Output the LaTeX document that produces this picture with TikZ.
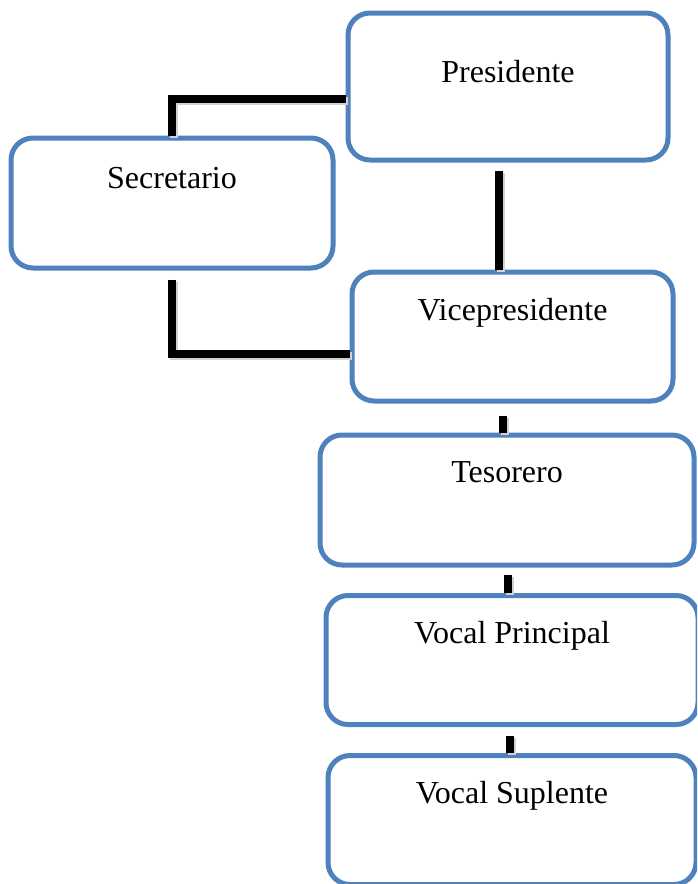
\documentclass[tikz,border=0pt]{standalone}
\usepackage{fontspec}
\setmainfont{Liberation Serif}
\usepackage{tikz}
\definecolor{cargoazul}{HTML}{4F81BD}
\tikzset{
    cargo/.style={draw=cargoazul, line width=5pt, rounded corners=22pt, fill=white, inner sep=0pt},
    enlace/.style={line width=7.5pt, preaction={draw=black!18, line width=8pt, transform canvas={xshift=2pt,yshift=-2pt}}}
}

\begin{document}
\begin{tikzpicture}[x=1pt, y=-1pt, font=\fontsize{32}{38}\selectfont]
        \useasboundingbox (0,0) rectangle (697,884);
        \clip (0,0) rectangle (697,884);

        % Cargos
        \node[cargo, minimum width=320pt, minimum height=147pt, label={[anchor=base, label distance=-72pt]north:Presidente}] (pres) at (508,86.5) {};
        \node[cargo, minimum width=322pt, minimum height=130pt, label={[anchor=base, label distance=-53pt]north:Secretario}] (sec) at (172,203) {};
        \node[cargo, minimum width=321pt, minimum height=129pt, label={[anchor=base, label distance=-51pt]north:Vicepresidente}] (vice) at (512.5,336.5) {};
        \node[cargo, minimum width=374pt, minimum height=130pt, label={[anchor=base, label distance=-50pt]north:Tesorero}] (tes) at (507,500) {};
        \node[cargo, minimum width=372pt, minimum height=129pt, label={[anchor=base, label distance=-50pt]north:Vocal Principal}] (vprin) at (512,660) {};
        \node[cargo, minimum width=368pt, minimum height=129pt, label={[anchor=base, label distance=-50pt]north:Vocal Suplente}] (vsup) at (512,820) {};

        % Lineas
        \draw[enlace] ([yshift=-12.5pt]pres.west) -| (sec.north);
        \draw[enlace, shorten <=9pt] (sec.south) |- ([yshift=-17.5pt]vice.west);
        \foreach \a/\b/\dx/\gap in {pres/vice/-9/8, vice/tes/-9.5/12, tes/vprin/1/7, vprin/vsup/-2/9}
        {
            \draw[enlace, shorten <=\gap pt] ([xshift=\dx pt]\a.south) -- ([xshift=\dx pt]\a.south |- \b.north);
        }
    \end{tikzpicture}
\end{document}
